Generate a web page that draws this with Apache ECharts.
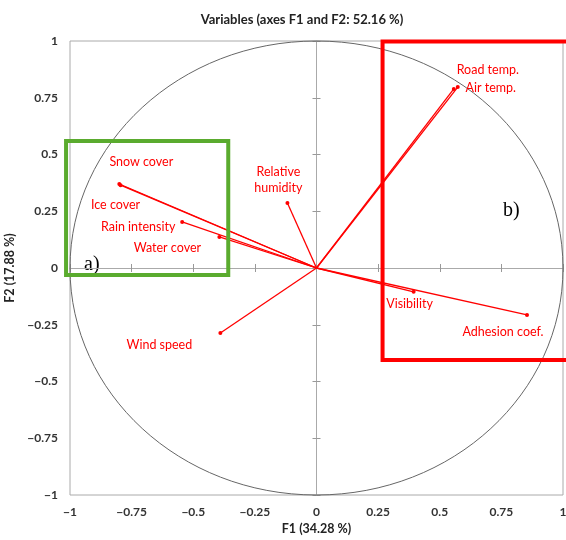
<!DOCTYPE html>
<html><head><meta charset="utf-8">
<script src="https://cdn.jsdelivr.net/npm/echarts@6/dist/echarts.min.js"></script>
<style>html,body{margin:0;padding:0;background:#fff}#c{width:566px;height:540px}</style>
</head><body><div id="c"></div>
<script>
const variables = ['Snow cover','Ice cover','Rain intensity','Water cover','Relative humidity','Wind speed','Road temp.','Air temp.','Visibility','Adhesion coef.'];
const f1 = [-0.800,-0.795,-0.545,-0.394,-0.118,-0.390,0.557,0.573,0.394,0.854];
const f2 = [0.370,0.365,0.203,0.137,0.286,-0.286,0.789,0.797,-0.105,-0.207];
const labelOffsets = [[22,-22],[-5,20],[-44,5],[-52,11],[-9,-23],[-61,12],[34,-19],[33,1],[-4,12],[-24,17]];
const ticks = [-1,-0.75,-0.5,-0.25,0,0.25,0.5,0.75,1];
const greenBox = [-1.016,0.559,-0.358,-0.031];
const redBox = [0.268,0.998,1.06,-0.405];

const fmt = v => String(v).replace('-', '\u2212');
const font = 'Lato, "Open Sans", sans-serif';

const series = [];
// correlation circle
series.push({
  type:'custom', silent:true, z:1, clip:false,
  data:[[0,0]],
  renderItem:(p,api)=>{
    const c = api.coord([0,0]);
    const s = api.size([1,1]);
    return {type:'ellipse', shape:{cx:c[0],cy:c[1],rx:s[0],ry:s[1]}, style:{fill:null, stroke:'#666', lineWidth:1}};
  }
});
variables.forEach((name,i)=>{
  series.push({
    type:'line', name:name, z:3,
    data:[{value:[0,0],symbol:'none'},{value:[f1[i],f2[i]],symbol:'circle',symbolSize:4,
      label:{show:true,formatter:name==='Relative humidity'?'Relative\nhumidity':name,position:'inside',offset:labelOffsets[i],
        color:'#ff0000',fontSize:12.5,fontFamily:font,lineHeight:16,align:'center',verticalAlign:'middle'}}],
    lineStyle:{color:'#ff0000',width:1.3},
    itemStyle:{color:'#ff0000'},
    showSymbol:true, animation:false
  });
});
function boxSeries(b,color){
  return {type:'custom', silent:true, z:5, clip:false, data:[[b[0],b[1],b[2],b[3]]],
    renderItem:(p,api)=>{
      const a = api.coord([api.value(0),api.value(1)]);
      const d = api.coord([api.value(2),api.value(3)]);
      return {type:'rect', shape:{x:a[0],y:a[1],width:d[0]-a[0],height:d[1]-a[1]}, style:{fill:null,stroke:color,lineWidth:4}};
    }};
}
series.push(boxSeries(greenBox,'#5aab2e'));
series.push(boxSeries(redBox,'#ff0000'));

const chart = echarts.init(document.getElementById('c'));
const labelStyle = {color:'#333',fontSize:12,fontWeight:'bold',fontFamily:font,formatter:fmt};
const tickStyle = {show:true,inside:true,length:4,lineStyle:{color:'#999'}};
chart.setOption({
  animation:false,
  title:{text:'Variables (axes F1 and F2: 52.16 %)',left:297,textAlign:'center',top:8,
    textStyle:{fontSize:13,fontWeight:'bold',color:'#222',fontFamily:font}},
  grid:{left:70,right:3,top:41,bottom:45,show:true,borderColor:'#aaa',borderWidth:1,outerBoundsMode:'none',containLabel:false},
  xAxis:[
    {type:'value',min:-1,max:1,interval:0.25,position:'bottom',axisLine:{show:false,onZero:false},axisTick:{show:false},
     splitLine:{show:false},axisLabel:Object.assign({margin:11},labelStyle),
     name:'F1 (34.28 %)',nameLocation:'middle',nameGap:27,nameTextStyle:{fontSize:12.5,fontWeight:'bold',color:'#222',fontFamily:font}},
    {type:'value',min:-1,max:1,interval:0.25,position:'bottom',axisLine:{show:true,onZero:true,lineStyle:{color:'#aaa'}},
     axisTick:tickStyle,axisLabel:{show:false},splitLine:{show:false}},
    {type:'value',min:-1,max:1,interval:0.25,position:'top',axisLine:{show:false,onZero:true},
     axisTick:tickStyle,axisLabel:{show:false},splitLine:{show:false}}
  ],
  yAxis:[
    {type:'value',min:-1,max:1,interval:0.25,position:'left',axisLine:{show:false,onZero:false},axisTick:{show:false},
     splitLine:{show:false},axisLabel:Object.assign({margin:12},labelStyle),
     name:'F2 (17.88 %)',nameLocation:'middle',nameGap:50,nameTextStyle:{fontSize:12.5,fontWeight:'bold',color:'#222',fontFamily:font}},
    {type:'value',min:-1,max:1,interval:0.25,position:'left',axisLine:{show:true,onZero:true,lineStyle:{color:'#aaa'}},
     axisTick:tickStyle,axisLabel:{show:false},splitLine:{show:false}},
    {type:'value',min:-1,max:1,interval:0.25,position:'right',axisLine:{show:false,onZero:true},
     axisTick:tickStyle,axisLabel:{show:false},splitLine:{show:false}}
  ],
  graphic:[
    {type:'text',left:84,top:255,style:{text:'a)',font:'20px "Liberation Serif", serif',fill:'#000'}},
    {type:'text',left:503,top:201,style:{text:'b)',font:'20px "Liberation Serif", serif',fill:'#000'}}
  ],
  series:series
});
</script></body></html>
